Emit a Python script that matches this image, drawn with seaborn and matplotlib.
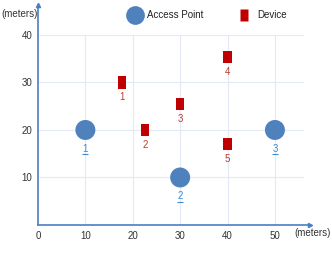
import matplotlib
matplotlib.use("Agg")
import matplotlib.pyplot as plt
import matplotlib.transforms as mtransforms
import seaborn as sns
import pandas as pd
from matplotlib.path import Path
from matplotlib.lines import Line2D

sns.set_theme(style="white")
plt.rcParams['font.family'] = ['Liberation Sans', 'DejaVu Sans']

ap_labels = ["1", "2", "3"]
ap_x = [10, 30, 50]
ap_y = [20, 10, 20]

dev_labels = ["1", "2", "3", "4", "5"]
dev_x = [17.7, 22.6, 30, 40, 40]
dev_y = [30, 20, 25.5, 35.4, 17]

x_ticks = [0, 10, 20, 30, 40, 50]
y_ticks = [10, 20, 30, 40]

AP_COLOR = "#4f81bd"
DEV_COLOR = "#c00000"
AXIS_COLOR = "#4a7fc1"
AP_LABEL = "#3a8ad6"
DEV_LABEL = "#c0392b"

rect = Path([(-0.33, -0.5), (0.33, -0.5), (0.33, 0.5), (-0.33, 0.5), (-0.33, -0.5)],
            [Path.MOVETO, Path.LINETO, Path.LINETO, Path.LINETO, Path.CLOSEPOLY])

ap_df = pd.DataFrame({"x": ap_x, "y": ap_y, "label": ap_labels})
dev_df = pd.DataFrame({"x": dev_x, "y": dev_y, "label": dev_labels})

fig = plt.figure(figsize=(3.32, 2.61), dpi=100)
ax = fig.add_axes([38/332, 36/261, 272/332, 220/261])

# gridlines
for xv in x_ticks[1:]:
    ax.plot([xv, xv], [0, 40], color="#e3eaf5", lw=0.8, zorder=0)
for yv in y_ticks:
    ax.plot([0, 56], [yv, yv], color="#e3eaf5", lw=0.8, zorder=0)

sns.scatterplot(data=ap_df, x="x", y="y", ax=ax, s=207, color=AP_COLOR,
                edgecolor="none", marker="o", zorder=3, legend=False)
sns.scatterplot(data=dev_df, x="x", y="y", ax=ax, s=78, color=DEV_COLOR,
                edgecolor="none", marker=rect, zorder=3, legend=False)

under_tr = mtransforms.offset_copy(ax.transData, fig=fig, x=0, y=-17.3, units="points")
for _, r in ap_df.iterrows():
    ax.annotate(r["label"], (r["x"], r["y"]), xytext=(0, -10), textcoords="offset points",
                ha="center", va="top", fontsize=7, color=AP_LABEL)
    ax.plot([r["x"]], [r["y"]], marker="_", ms=5, mew=0.8, color=AP_LABEL,
            transform=under_tr, clip_on=False)
for _, r in dev_df.iterrows():
    ax.annotate(r["label"], (r["x"], r["y"]), xytext=(0, -7), textcoords="offset points",
                ha="center", va="top", fontsize=7, color=DEV_LABEL)

ax.set_xlim(0, 57.4)
ax.set_ylim(0, 46.3)
ax.set_xticks(x_ticks)
ax.set_yticks(y_ticks)
ax.set_xticklabels([str(v) for v in x_ticks])
ax.set_yticklabels([str(v) for v in y_ticks])
ax.set_xlabel("")
ax.set_ylabel("")
ax.tick_params(direction="in", length=3.5, width=1, colors=AXIS_COLOR,
               labelcolor="#333333", labelsize=7, pad=4)
for s in ["top", "right"]:
    ax.spines[s].set_visible(False)
for s in ["left", "bottom"]:
    ax.spines[s].set_color(AXIS_COLOR)
    ax.spines[s].set_linewidth(1.2)
ax.plot(1, 0, ">", transform=ax.transAxes, color=AXIS_COLOR, ms=3, clip_on=False)
ax.plot(0, 1, "^", transform=ax.transAxes, color=AXIS_COLOR, ms=3, clip_on=False)

fig.text(1/332, 1 - 14/261, "(meters)", fontsize=7, color="#333333", va="center", ha="left")
fig.text(331/332, 1 - 233/261, "(meters)", fontsize=7, color="#333333", va="center", ha="right")

handles = [
    Line2D([], [], marker="o", ls="none", color=AP_COLOR, markersize=13.5, markeredgecolor="none"),
    Line2D([], [], marker=rect, ls="none", color=DEV_COLOR, markersize=8.6, markeredgecolor="none"),
]
fig.legend(handles, ["Access Point", "Device"], loc="center", bbox_to_anchor=(0.62, 1 - 15/261),
           ncol=2, frameon=False, fontsize=7, handletextpad=0.3, columnspacing=3.2,
           labelcolor="#222222")

fig.savefig("out.png", dpi=100)
